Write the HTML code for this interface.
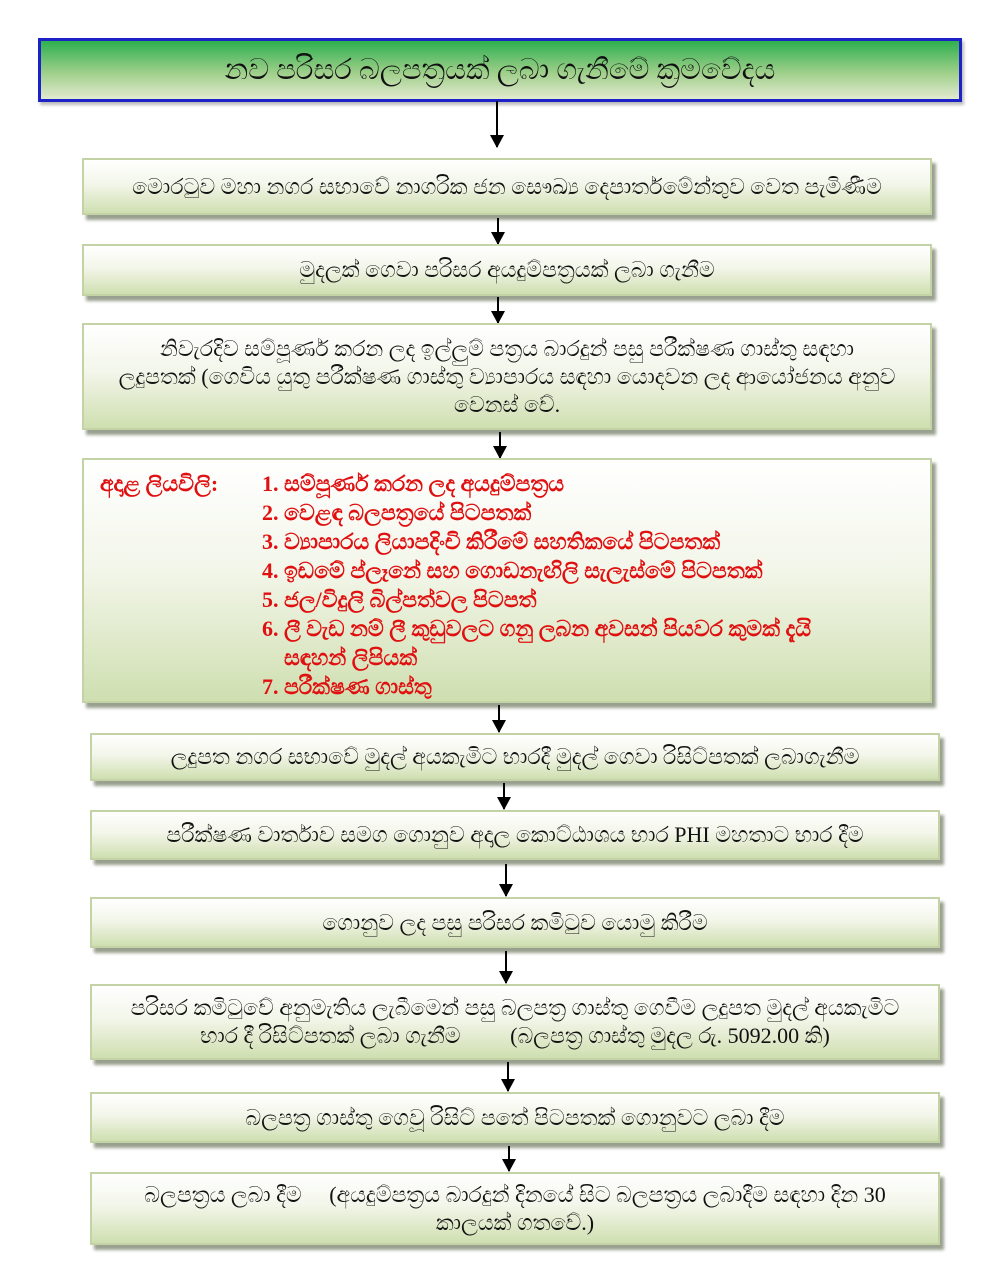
<!DOCTYPE html>
<html><head><meta charset="utf-8">
<style>
body{margin:0;background:#fff;width:1000px;height:1286px;position:relative;overflow:hidden;font-family:"Liberation Serif","DejaVu Sans",sans-serif;}
.h{position:absolute;left:38px;top:38px;width:918px;height:58px;border:3px solid #1c22c8;background:linear-gradient(#2db04f,#9fcf8a 55%,#e2ead0);box-shadow:2px 3px 3px #bbb;display:flex;align-items:center;justify-content:center;font-size:29px;color:#111;white-space:nowrap;}
.b{position:absolute;border:2px solid #c3d3a5;background:linear-gradient(#ffffff,#f3f6ea 45%,#cfdfb0);box-shadow:4px 5px 3px #9aa08f;display:flex;align-items:center;justify-content:center;text-align:center;font-size:22px;color:#111;line-height:28px;box-sizing:border-box;padding:0 10px;white-space:nowrap;}
.a{position:absolute;width:2px;background:#000;}
.a::after{content:"";position:absolute;left:-6px;bottom:-1px;border-left:7px solid transparent;border-right:7px solid transparent;border-top:13px solid #000;}
.red{color:#e01010;font-size:22px;font-weight:bold;}
</style></head><body>
<div class="h">නව පරිසර බලපත්‍රයක් ලබා ගැනීමේ ක්‍රමවේදය</div>

<div class="a" style="left:496px;top:101px;height:46px"></div>
<div class="b" style="left:82px;top:158px;width:850px;height:57px">මොරටුව මහා නගර සභාවේ නාගරික ජන සෞඛ්‍ය දෙපාර්තමේන්තුව වෙත පැමිණීම</div>

<div class="a" style="left:497px;top:218px;height:26px"></div>
<div class="b" style="left:82px;top:244px;width:850px;height:52px">මුදලක් ගෙවා පරිසර අයදුම්පත්‍රයක් ලබා ගැනීම</div>

<div class="a" style="left:497px;top:297px;height:26px"></div>
<div class="b" style="left:82px;top:323px;width:850px;height:107px">නිවැරදිව සම්පූර්ණ කරන ලද ඉල්ලුම් පත්‍රය බාරදුන් පසු පරීක්ෂණ ගාස්තු සඳහා<br>ලදුපතක් (ගෙවිය යුතු පරීක්ෂණ ගාස්තු ව්‍යාපාරය සඳහා යොදවන ලද ආයෝජනය අනුව<br>වෙනස් වේ.</div>

<div class="a" style="left:499px;top:432px;height:26px"></div>
<div class="b" style="left:82px;top:458px;width:850px;height:245px;display:block;text-align:left;padding:9px 14px;line-height:29px">
<div class="red" style="position:absolute;left:16px;top:9px">අදාළ ලියවිලි:</div>
<div class="red" style="margin-left:164px">
<div>1. සම්පූර්ණ කරන ලද අයදුම්පත්‍රය</div>
<div>2. වෙළඳ බලපත්‍රයේ පිටපතක්</div>
<div>3. ව්‍යාපාරය ලියාපදිංචි කිරීමේ සහතිකයේ පිටපතක්</div>
<div>4. ඉඩමේ ප්ලෑනේ සහ ගොඩනැඟිලි සැලැස්මේ පිටපතක්</div>
<div>5. ජල/විදුලි බිල්පත්වල පිටපත්</div>
<div>6. ලී වැඩ නම් ලී කුඩුවලට ගනු ලබන අවසන් පියවර කුමක් දැයි<br>&nbsp;&nbsp;&nbsp;&nbsp;සඳහන් ලිපියක්</div>
<div>7. පරීක්ෂණ ගාස්තු</div>
</div></div>

<div class="a" style="left:498px;top:705px;height:27px"></div>
<div class="b" style="left:90px;top:733px;width:850px;height:48px">ලදුපත නගර සභාවේ මුදල් අයකැමිට භාරදී මුදල් ගෙවා රිසිට්පතක් ලබාගැනීම</div>

<div class="a" style="left:503px;top:783px;height:26px"></div>
<div class="b" style="left:90px;top:810px;width:850px;height:50px">පරීක්ෂණ වාර්තාව සමග ගොනුව අදාල කොට්ඨාශය භාර PHI මහතාට භාර දීම</div>

<div class="a" style="left:505px;top:864px;height:32px"></div>
<div class="b" style="left:90px;top:897px;width:850px;height:51px">ගොනුව ලද පසු පරිසර කමිටුව යොමු කිරීම</div>

<div class="a" style="left:505px;top:951px;height:32px"></div>
<div class="b" style="left:90px;top:984px;width:850px;height:76px">පරිසර කමිටුවේ අනුමැතිය ලැබීමෙන් පසු බලපත්‍ර ගාස්තු ගෙවීම ලදුපත මුදල් අයකැමිට<br>භාර දී රිසිට්පතක් ලබා ගැනීම &nbsp;&nbsp;&nbsp;&nbsp;&nbsp;&nbsp;&nbsp;&nbsp;(බලපත්‍ර ගාස්තු මුදල රු. 5092.00 කි)</div>

<div class="a" style="left:507px;top:1062px;height:29px"></div>
<div class="b" style="left:90px;top:1092px;width:850px;height:51px">බලපත්‍ර ගාස්තු ගෙවූ රිසිට් පතේ පිටපතක් ගොනුවට ලබා දීම</div>

<div class="a" style="left:508px;top:1146px;height:25px"></div>
<div class="b" style="left:90px;top:1172px;width:850px;height:73px">බලපත්‍රය ලබා දීම &nbsp;&nbsp;&nbsp;&nbsp;(අයදුම්පත්‍රය බාරදුන් දිනයේ සිට බලපත්‍රය ලබාදීම සඳහා දින 30<br>කාලයක් ගතවේ.)</div>
</body></html>
